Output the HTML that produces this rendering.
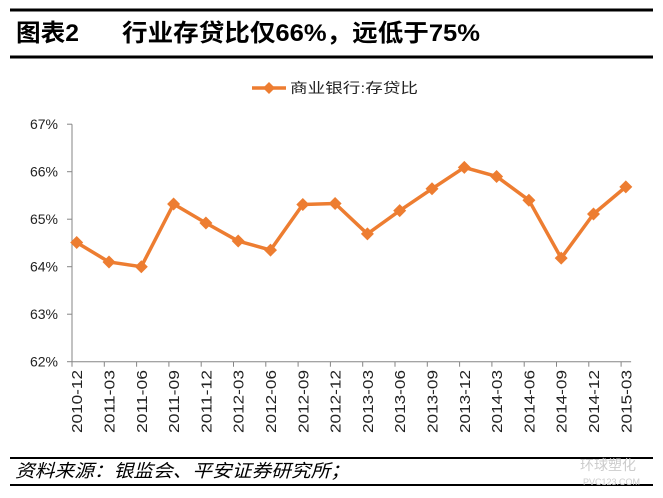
<!DOCTYPE html>
<html><head><meta charset="utf-8"><style>
body{margin:0;width:663px;height:493px;background:#fff;overflow:hidden;font-family:"Liberation Sans","Noto Sans CJK SC",sans-serif;}
</style></head><body>
<svg width="663" height="493" xmlns="http://www.w3.org/2000/svg">
<line x1="10" y1="10" x2="653" y2="10" stroke="#000" stroke-width="3"/>
<text x="16" y="41" font-size="24" font-weight="bold" textLength="63" lengthAdjust="spacingAndGlyphs" font-family="Liberation Sans,Noto Sans CJK SC,sans-serif">图表2</text>
<text x="122" y="41" font-size="24" font-weight="bold" textLength="358" lengthAdjust="spacingAndGlyphs" font-family="Liberation Sans,Noto Sans CJK SC,sans-serif">行业存贷比仅66%，远低于75%</text>
<line x1="10" y1="57" x2="653" y2="57" stroke="#000" stroke-width="3"/>
<g>
<line x1="252" y1="88" x2="286" y2="88" stroke="#ED7D31" stroke-width="3.5"/>
<path d="M269 82 L275 88 L269 94 L263 88Z" fill="#ED7D31"/>
<text x="290" y="93" font-size="14" fill="#222" textLength="128" lengthAdjust="spacingAndGlyphs" font-family="Liberation Sans,Noto Sans CJK SC,sans-serif">商业银行:存贷比</text>
</g>
<g id="axes"></g>
<g id="plot"></g>
<line x1="10" y1="458" x2="653" y2="458" stroke="#000" stroke-width="2"/>
<text x="15" y="477" font-size="18" font-style="italic" textLength="335" lengthAdjust="spacingAndGlyphs" font-family="Liberation Sans,Noto Sans CJK SC,sans-serif">资料来源：银监会、平安证券研究所；</text>
<line x1="10" y1="485" x2="653" y2="485" stroke="#000" stroke-width="2"/>
<text x="580" y="470" font-size="14" fill="#ccc" font-family="Liberation Sans,Noto Sans CJK SC,sans-serif">环球塑化</text>
<text x="583" y="485" font-size="9" fill="#ccc">PVC123.COM</text>
</svg>
<script>
const categories=["2010-12","2011-03","2011-06","2011-09","2011-12","2012-03","2012-06","2012-09","2012-12","2013-03","2013-06","2013-09","2013-12","2014-03","2014-06","2014-09","2014-12","2015-03"];
const ratioValues=[64.51,64.10,64.00,65.32,64.92,64.54,64.35,65.31,65.33,64.69,65.18,65.64,66.09,65.90,65.40,64.18,65.11,65.68];
const yTicks=[62,63,64,65,66,67];
const NS="http://www.w3.org/2000/svg";
const x0=72,step=32.3,yBase=361.7,pxPer=47.5;
const xTick=i=>x0+i*step;
const xPt=i=>x0+4.7+i*step;
const yPos=v=>yBase-(v-62)*pxPer;
const axes=document.getElementById('axes'),plot=document.getElementById('plot');
function mk(tag,attrs,parent){const e=document.createElementNS(NS,tag);for(const k in attrs)e.setAttribute(k,attrs[k]);parent.appendChild(e);return e;}
const ya=mk('line',{x1:x0,y1:yPos(67),x2:x0,y2:yBase,stroke:'#868686','stroke-width':1},axes);


const xa=mk('line',{x1:x0,y1:yBase,x2:xTick(categories.length-1)+10,y2:yBase,stroke:'#868686','stroke-width':1},axes);


yTicks.forEach(v=>{
 mk('line',{x1:x0-5,y1:yPos(v),x2:x0,y2:yPos(v),stroke:'#868686'},axes);
 const t=mk('text',{x:x0-14,y:yPos(v)+5,'font-size':14,'text-anchor':'end',fill:'#222'},axes);
 t.textContent=v+'%';
 
 
});
categories.forEach((c,i)=>{
 mk('line',{x1:xTick(i),y1:yBase,x2:xTick(i),y2:yBase+5,stroke:'#868686'},axes);
 const cx=xPt(i)+5.5;
 const t=mk('text',{x:0,y:0,'font-size':15,'text-anchor':'end',fill:'#222',textLength:63,lengthAdjust:'spacingAndGlyphs',transform:`translate(${cx},370) rotate(-90)`},axes);
 t.textContent=c;
 
 
});
const pts=ratioValues.map((v,i)=>xPt(i)+','+yPos(v)).join(' ');
const line=mk('polyline',{points:pts,fill:'none',stroke:'#ED7D31','stroke-width':3.5,'stroke-linejoin':'round'},plot);


ratioValues.forEach((v,i)=>{
 const x=xPt(i),y=yPos(v);
 const m=mk('path',{d:`M${x} ${y-6.5}L${x+6.5} ${y}L${x} ${y+6.5}L${x-6.5} ${y}Z`,fill:'#ED7D31'},plot);
 
 
});
</script>
</body></html>
